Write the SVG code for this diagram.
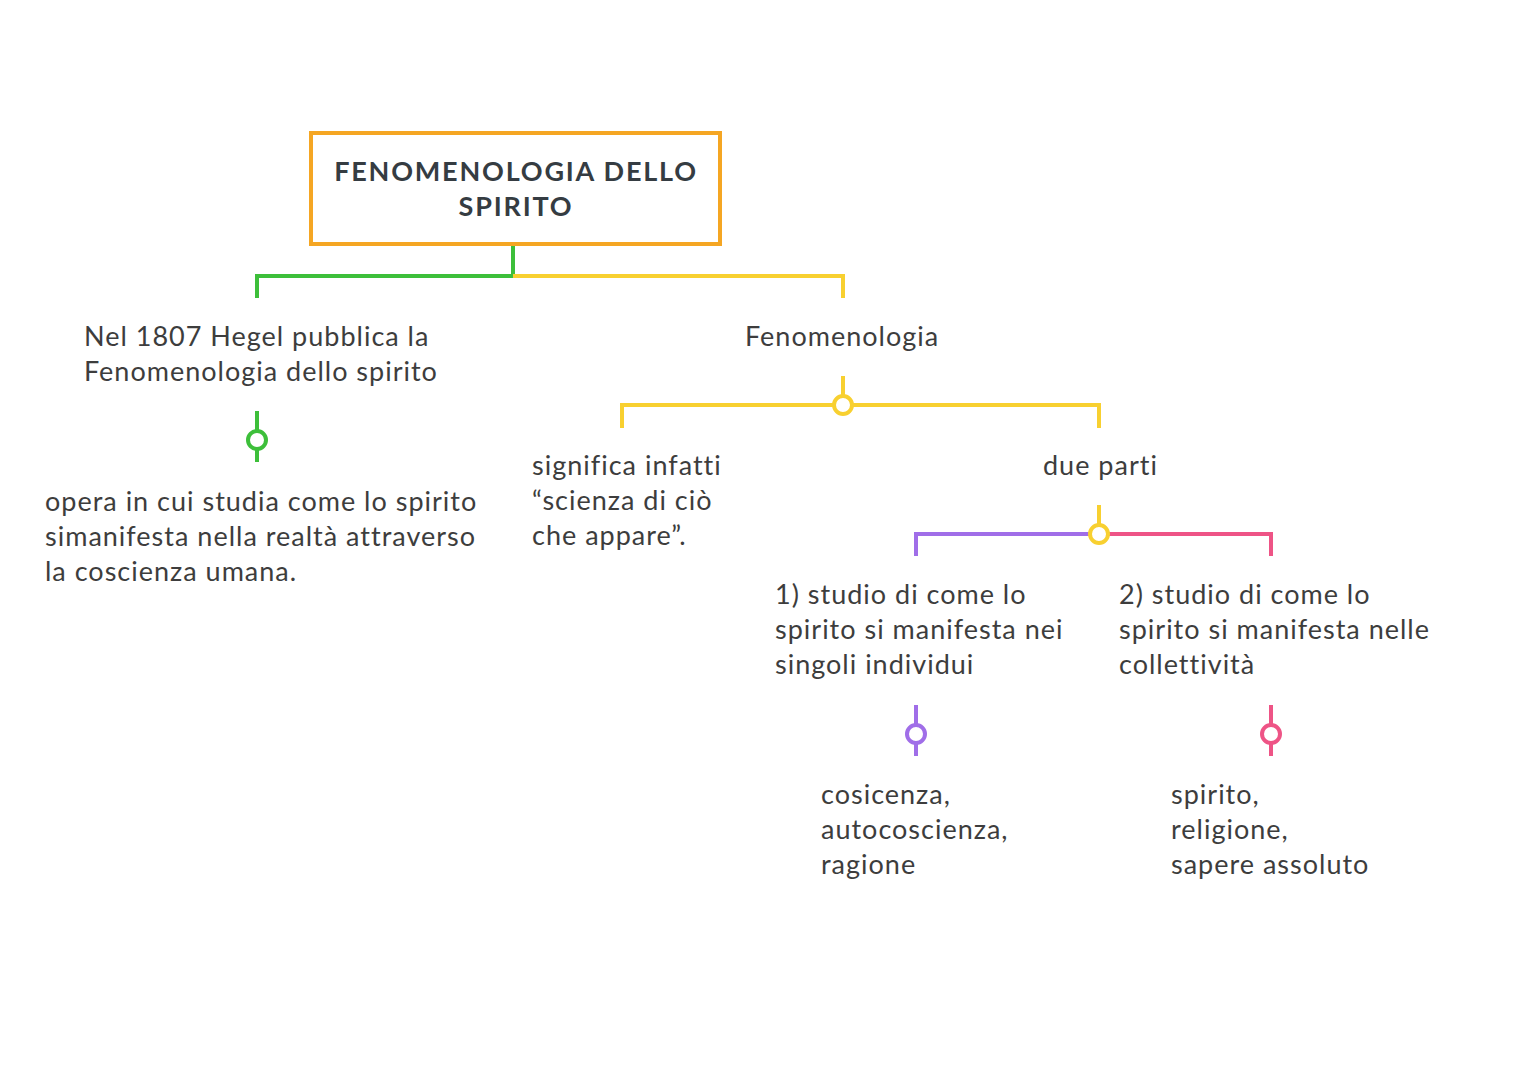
<svg xmlns="http://www.w3.org/2000/svg" width="1528" height="1080" viewBox="0 0 1528 1080">
<style>
.t{font-family:Lato,"Noto Sans",sans-serif;font-size:27px;fill:#3d3d3d;letter-spacing:1px}
.h{font-family:Lato,"Noto Sans",sans-serif;font-size:27px;font-weight:bold;fill:#353c42;letter-spacing:1.8px}
.c{fill:none;stroke-width:4}
.d{fill:#fff;stroke-width:4}
.g{stroke:#3dbf3a}.y{stroke:#f8d030}.p{stroke:#a06ee8}.r{stroke:#ee5486}
</style>
<rect width="1528" height="1080" fill="#fff"/>
<g id="connectors">
<path class="c g" d="M513 246V276H257V298"/>
<path class="c y" d="M513 276H843V298"/>
<path class="c g" d="M257 411V462"/><circle class="d g" cx="257" cy="440" r="9"/>
<path class="c y" d="M843 376V405M622 428V405H1099V428"/><circle class="d y" cx="843" cy="405" r="9"/>
<path class="c y" d="M1099 505V534"/>
<path class="c p" d="M1099 534H916V556"/>
<path class="c r" d="M1099 534H1271V556"/>
<circle class="d y" cx="1099" cy="534" r="9"/>
<path class="c p" d="M916 705V756"/><circle class="d p" cx="916" cy="734" r="9"/>
<path class="c r" d="M1271 705V756"/><circle class="d r" cx="1271" cy="734" r="9"/>
</g>
<g id="root"><rect x="311" y="133" width="409" height="111" fill="none" stroke="#f5a623" stroke-width="4"/>
<text class="h" text-anchor="middle"><tspan x="516" y="181">FENOMENOLOGIA DELLO</tspan><tspan x="516" y="216">SPIRITO</tspan></text></g>
<g id="n1"><text class="t"><tspan x="84" y="346">Nel 1807 Hegel pubblica la</tspan><tspan x="84" y="381">Fenomenologia dello spirito</tspan></text></g>
<g id="n2"><text class="t"><tspan x="45" y="511">opera in cui studia come lo spirito</tspan><tspan x="45" y="546">simanifesta nella realtà attraverso</tspan><tspan x="45" y="581">la coscienza umana.</tspan></text></g>
<g id="n3"><text class="t" x="745" y="346">Fenomenologia</text></g>
<g id="n4"><text class="t"><tspan x="532" y="475">significa infatti</tspan><tspan x="532" y="510">“scienza di ciò</tspan><tspan x="532" y="545">che appare”.</tspan></text></g>
<g id="n5"><text class="t" x="1043" y="475">due parti</text></g>
<g id="n6"><text class="t"><tspan x="775" y="604">1) studio di come lo</tspan><tspan x="775" y="639">spirito si manifesta nei</tspan><tspan x="775" y="674">singoli individui</tspan></text></g>
<g id="n7"><text class="t"><tspan x="1119" y="604">2) studio di come lo</tspan><tspan x="1119" y="639">spirito si manifesta nelle</tspan><tspan x="1119" y="674">collettività</tspan></text></g>
<g id="n8"><text class="t"><tspan x="821" y="804">cosicenza,</tspan><tspan x="821" y="839">autocoscienza,</tspan><tspan x="821" y="874">ragione</tspan></text></g>
<g id="n9"><text class="t"><tspan x="1171" y="804">spirito,</tspan><tspan x="1171" y="839">religione,</tspan><tspan x="1171" y="874">sapere assoluto</tspan></text></g>
</svg>
